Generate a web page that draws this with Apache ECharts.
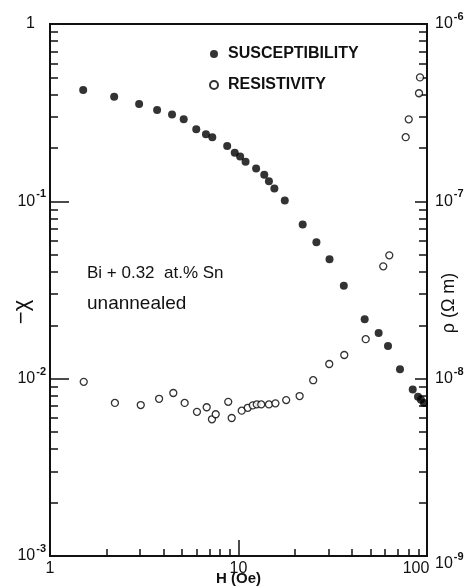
<!DOCTYPE html>
<html>
<head>
<meta charset="utf-8">
<script src="https://cdn.jsdelivr.net/npm/echarts@6/dist/echarts.min.js"></script>
<style>
  html, body { margin: 0; padding: 0; background: #fff; }
  #chart { width: 468px; height: 588px; }
</style>
</head>
<body>
<div id="chart"></div>
<script>
// susceptibility (filled dots), left axis
const H_SUS = [1.50, 2.19, 2.97, 3.70, 4.44, 5.12, 5.97, 6.72, 7.26, 8.71, 9.55, 10.2, 10.9, 12.4, 13.7, 14.5, 15.5, 17.6, 21.9, 25.9, 30.4, 36.2, 46.7, 55.4, 62.1, 71.9, 84.0, 89.6, 92.9, 96.4]
const CHI = [0.424, 0.389, 0.354, 0.327, 0.309, 0.290, 0.255, 0.239, 0.230, 0.205, 0.188, 0.179, 0.167, 0.153, 0.141, 0.130, 0.118, 0.101, 0.074, 0.0587, 0.0471, 0.0334, 0.0216, 0.0181, 0.0153, 0.0113, 0.0087, 0.0079, 0.0076, 0.0073]

// resistivity (open circles), right axis, ohm m
const H_RES = [1.51, 2.21, 3.03, 3.79, 4.51, 5.18, 6.02, 6.78, 7.23, 7.57, 8.82, 9.20, 10.4, 11.2, 11.9, 12.5, 13.2, 14.5, 15.7, 17.9, 21.1, 24.9, 30.3, 36.4, 47.3, 58.6, 63.1, 77.1, 80.0, 90.7, 91.8]
const RHO = [9.6e-9, 7.3e-9, 7.1e-9, 7.7e-9, 8.3e-9, 7.3e-9, 6.5e-9, 6.9e-9, 5.9e-9, 6.3e-9, 7.4e-9, 6.0e-9, 6.6e-9, 6.85e-9, 7.07e-9, 7.16e-9, 7.16e-9, 7.16e-9, 7.26e-9, 7.57e-9, 7.98e-9, 9.8e-9, 1.21e-8, 1.36e-8, 1.67e-8, 4.3e-8, 4.96e-8, 2.3e-7, 2.9e-7, 4.07e-7, 5.0e-7]

// ticks
const X_MINOR = [2, 3, 4, 5, 6, 7, 8, 9, 20, 30, 40, 50, 60, 70, 80, 90]
const X_MAJOR = [10]
const X_LABELS = [1, 10, 100]
const YL_MINOR = [0.002, 0.003, 0.004, 0.005, 0.006, 0.007, 0.008, 0.009, 0.02, 0.03, 0.04, 0.05, 0.06, 0.07, 0.08, 0.09, 0.2, 0.3, 0.4, 0.5, 0.6, 0.7, 0.8, 0.9]
const YL_MAJOR = [0.01, 0.1]
const YL_LABELS = [0.001, 0.01, 0.1, 1]
const YR_MINOR = [2e-9, 3e-9, 4e-9, 5e-9, 6e-9, 7e-9, 8e-9, 9e-9, 2e-8, 3e-8, 4e-8, 5e-8, 6e-8, 7e-8, 8e-8, 9e-8, 2e-7, 3e-7, 4e-7, 5e-7, 6e-7, 7e-7, 8e-7, 9e-7]
const YR_MAJOR = [1e-8, 1e-7]
const YR_LABELS = [1e-9, 1e-8, 1e-7, 1e-6]

const FONT = 'Liberation Sans'
const INK = '#111'

const rich = {
  b: { fontSize: 16, fontFamily: FONT, color: INK },
  s: { fontSize: 11, fontFamily: FONT, color: INK, fontWeight: 'bold', padding: [0, 0, 14, 1] },
  one: { fontSize: 16, fontFamily: FONT, color: INK, padding: [0, 11, 0, 0] },
  hund: { fontSize: 16, fontFamily: FONT, color: INK, padding: [0, 22, 0, 0] },
  e: { fontSize: 10, lineHeight: 16 }
}

function powLabel(v) {
  const e = Math.round(Math.log10(v))
  if (e === 0) return '{one|1}'
  return '{b|10}{s|' + e + '}'
}

const pairX = (xs, ys) => xs.map((x, i) => [x, ys[i]])

const logX = { type: 'log', logBase: 10, min: 1, max: 100, position: 'bottom', gridIndex: 0, axisLine: { show: false }, splitLine: { show: false } }
const logYL = { type: 'log', logBase: 10, min: 0.001, max: 1, position: 'left', axisLine: { show: false }, splitLine: { show: false } }
const logYR = { type: 'log', logBase: 10, min: 1e-9, max: 1e-6, position: 'right', axisLine: { show: false }, splitLine: { show: false } }

const option = {
  backgroundColor: '#fff',
  animation: false,
  grid: {
    left: 50, right: 41, top: 24, bottom: 32,
    outerBoundsMode: 'none', containLabel: false,
    show: true, borderColor: INK, borderWidth: 2, backgroundColor: 'transparent'
  },
  legend: {
    orient: 'vertical',
    left: 204,
    top: 41,
    itemWidth: 8,
    itemHeight: 8,
    itemGap: 15,
    icon: 'circle',
    textStyle: { fontFamily: FONT, fontSize: 16, fontWeight: 'bold', color: INK, padding: [0, 0, 0, 5] },
    data: ['SUSCEPTIBILITY', 'RESISTIVITY']
  },
  xAxis: [
    Object.assign({}, logX, {
      axisTick: { inside: true, length: 7, lineStyle: { color: INK, width: 1.5 }, customValues: X_MINOR },
      axisLabel: { show: false }
    }),
    Object.assign({}, logX, {
      axisTick: { inside: true, length: 16, lineStyle: { color: INK, width: 1.5 }, customValues: X_MAJOR },
      axisLabel: {
        customValues: X_LABELS, margin: 5, rich,
        formatter: v => (Math.round(v) === 100 ? '{hund|100}' : '{b|' + Math.round(v) + '}')
      },
      name: 'H (Oe)',
      nameLocation: 'middle',
      nameGap: 15,
      nameMoveOverlap: false,
      nameTextStyle: { fontFamily: FONT, fontSize: 15, fontWeight: 'bold', color: INK }
    })
  ],
  yAxis: [
    Object.assign({}, logYL, {
      axisTick: { inside: true, length: 8, lineStyle: { color: INK, width: 1.5 }, customValues: YL_MINOR },
      axisLabel: { show: false }
    }),
    Object.assign({}, logYL, {
      axisTick: { inside: true, length: 19, lineStyle: { color: INK, width: 1.5 }, customValues: YL_MAJOR },
      axisLabel: { customValues: YL_LABELS, margin: 4, rich, formatter: powLabel }
    }),
    Object.assign({}, logYR, {
      axisTick: { inside: true, length: 8, lineStyle: { color: INK, width: 1.5 }, customValues: YR_MINOR },
      axisLabel: { show: false }
    }),
    Object.assign({}, logYR, {
      axisTick: { inside: true, length: 12, lineStyle: { color: INK, width: 1.5 }, customValues: YR_MAJOR },
      axisLabel: {
        customValues: YR_LABELS, margin: 8, rich,
        formatter: v => {
          const e = Math.round(Math.log10(v))
          const t = '{b|10}{s|' + e + '}'
          return e === -9 ? '{e| }\n' + t : t
        }
      }
    })
  ],
  graphic: [
    { type: 'text', x: 22, y: 312, rotation: Math.PI / 2, style: { text: '\u2212\u03c7', fontFamily: FONT, fontSize: 22, fill: INK, align: 'center', verticalAlign: 'middle' } },
    { type: 'text', x: 449, y: 303, rotation: Math.PI / 2, style: { text: '\u03c1 (\u03a9 m)', fontFamily: FONT, fontSize: 18, fill: INK, align: 'center', verticalAlign: 'middle' } },
    { type: 'text', left: 87, top: 265, style: { text: 'Bi + 0.32  at.% Sn', fontFamily: FONT, fontSize: 17, fill: INK } },
    { type: 'text', left: 87, top: 294, style: { text: 'unannealed', fontFamily: FONT, fontSize: 19, fill: INK } }
  ],
  series: [
    {
      name: 'SUSCEPTIBILITY',
      type: 'scatter',
      xAxisIndex: 0,
      yAxisIndex: 0,
      symbol: 'circle',
      symbolSize: 8,
      itemStyle: { color: '#000' },
      data: pairX(H_SUS, CHI)
    },
    {
      name: 'RESISTIVITY',
      type: 'scatter',
      xAxisIndex: 0,
      yAxisIndex: 2,
      symbol: 'circle',
      symbolSize: 7,
      itemStyle: { color: '#fff', borderColor: '#000', borderWidth: 1.3 },
      data: pairX(H_RES, RHO)
    }
  ]
}

const chart = echarts.init(document.getElementById('chart'), null, { renderer: 'canvas' })
chart.setOption(option)
</script>
</body>
</html>
